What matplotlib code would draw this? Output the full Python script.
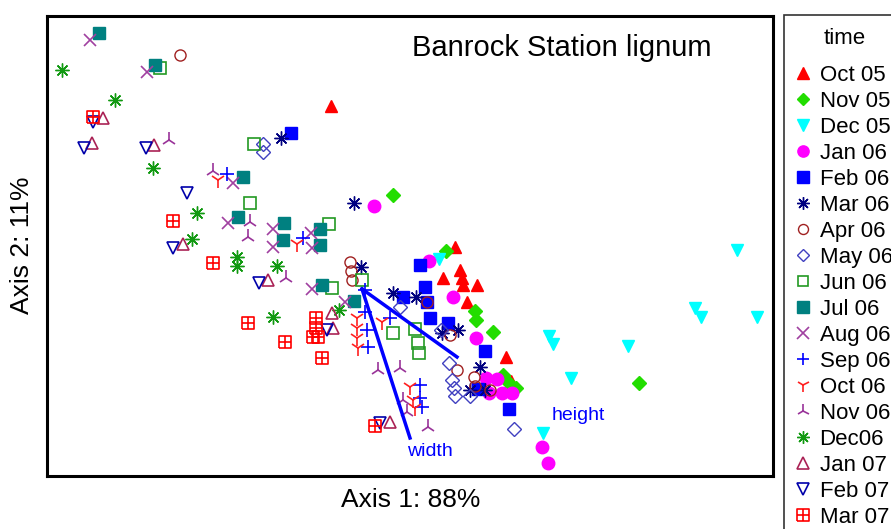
import matplotlib
matplotlib.use("Agg")
import matplotlib.pyplot as plt
from matplotlib.path import Path

plt.rcParams['font.family'] = ['Liberation Sans', 'DejaVu Sans']

# ordination scores (screen units, y grows downward)
oct05 = [(331,106),(455,247),(443,278),(460,270),(462,278),(463,285),(477,285),(467,302),(506,357),(511,381)]
nov05 = [(393,195),(446,251),(475,311),(476,320),(493,332),(503,375),(509,383),(516,388),(639,383)]
dec05 = [(439,259),(549,336),(553,344),(571,378),(628,346),(695,308),(701,317),(737,250),(757,317),(543,433)]
jan06 = [(374,206),(429,261),(453,297),(476,338),(486,378),(497,379),(489,393),(502,393),(512,393),(542,447),(548,463)]
feb06 = [(291,133),(420,265),(425,287),(403,297),(427,302),(430,318),(448,323),(485,351),(478,389),(509,409)]
mar06 = [(281,138),(354,203),(361,267),(393,293),(416,297),(442,333),(458,330),(480,367),(470,390),(485,390)]
apr06 = [(180,55),(350,262),(351,271),(352,280),(427,302),(450,335),(457,370),(474,377),(475,386),(490,390)]
may06 = [(263,144),(263,152),(400,307),(441,330),(449,363),(452,380),(454,388),(455,396),(470,396),(514,429)]
jun06 = [(160,68),(254,144),(250,203),(329,224),(332,288),(362,280),(393,333),(415,329),(418,343),(419,353)]
jul06 = [(99,33),(155,65),(243,177),(238,217),(284,223),(283,240),(320,229),(320,245),(322,285),(354,301)]
aug06 = [(90,40),(147,72),(233,183),(228,223),(273,229),(273,247),(311,233),(312,248),(312,289),(345,302)]
sep06 = [(227,174),(303,238),(365,290),(365,312),(367,330),(368,347),(390,318),(420,385),(420,398),(422,407)]
oct06 = [(218,180),(297,244),(357,318),(357,328),(357,338),(358,348),(382,322),(410,387),(413,400),(415,408)]
nov06 = [(169,140),(213,171),(250,222),(248,237),(286,278),(378,370),(400,368),(403,400),(407,412),(428,427)]
dec06b = [(62,70),(115,100),(153,168),(197,213),(192,239),(237,257),(237,266),(277,266),(273,317),(339,310)]
jan07 = [(103,118),(92,143),(154,145),(183,244),(268,280),(332,313),(333,328),(390,422)]
feb07 = [(93,122),(84,148),(146,148),(187,193),(173,248),(259,283),(327,330),(380,423)]
mar07 = [(93,117),(173,221),(213,263),(248,323),(285,342),(316,318),(316,328),(313,337),(318,337),(322,358),(375,426)]

labels = ["Oct 05","Nov 05","Dec 05","Jan 06","Feb 06","Mar 06","Apr 06","May 06","Jun 06",
          "Jul 06","Aug 06","Sep 06","Oct 06","Nov 06","Dec06","Jan 07","Feb 07","Mar 07"]
series = [oct05,nov05,dec05,jan06,feb06,mar06,apr06,may06,jun06,jul06,aug06,sep06,oct06,nov06,dec06b,jan07,feb07,mar07]

# joint plot vectors: origin and tips
vec_origin = (362,289)
vec_tips = {"width": (410,438), "height": (457,357)}
vec_label_pos = {"width": (430,451), "height": (578,415)}

boxplus = Path([(-1,-1),(1,-1),(1,1),(-1,1),(-1,-1),(0,-1),(0,1),(-1,0),(1,0)],
               [Path.MOVETO,Path.LINETO,Path.LINETO,Path.LINETO,Path.LINETO,
                Path.MOVETO,Path.LINETO,Path.MOVETO,Path.LINETO])

styles = [
    dict(marker='^', color='#ff0000', ms=9),
    dict(marker='D', color='#22dd00', ms=7),
    dict(marker='v', color='#00ffff', ms=9),
    dict(marker='o', color='#ff00ff', ms=9),
    dict(marker='s', color='#0000ff', ms=9),
    dict(marker=(8,2,0), color='#000080', ms=10, mew=1),
    dict(marker='o', color='#a02020', ms=8, mfc='none', mew=1),
    dict(marker='D', color='#4040c0', ms=7, mfc='none', mew=1),
    dict(marker='s', color='#229922', ms=8, mfc='none', mew=1.2),
    dict(marker='s', color='#008080', ms=9),
    dict(marker='x', color='#a040a0', ms=9, mew=1.2),
    dict(marker='+', color='#0000ff', ms=10, mew=1.2),
    dict(marker='1', color='#ff2020', ms=11, mew=1.2),
    dict(marker='2', color='#993399', ms=11, mew=1.2),
    dict(marker=(8,2,0), color='#119911', ms=10, mew=1),
    dict(marker='^', color='#aa2255', ms=9, mfc='none', mew=1.2),
    dict(marker='v', color='#0000aa', ms=9, mfc='none', mew=1.2),
    dict(marker=boxplus, color='#ff0000', ms=9, mfc='none', mew=1.2),
]

fig = plt.figure(figsize=(8.91, 5.29), dpi=100)
ax = fig.add_axes([47/891, 1-476/529, (773-47)/891, (476-16)/529])

for pts, lab, st in zip(series, labels, styles):
    xs = [p[0] for p in pts]
    ys = [p[1] for p in pts]
    ax.plot(xs, ys, linestyle='none', label=lab, **st)

for name, tip in vec_tips.items():
    ax.plot([vec_origin[0], tip[0]], [vec_origin[1], tip[1]], color='#0000ff', lw=2.5)
    lx, ly = vec_label_pos[name]
    ax.text(lx, ly, name, color='#0000ff', fontsize=14, ha='center', va='center')

ax.set_xlim(47, 773)
ax.set_ylim(476, 16)
ax.set_xticks([])
ax.set_yticks([])
for s in ax.spines.values():
    s.set_linewidth(2.2)

ax.text(562, 48, "Banrock Station lignum", fontsize=21, ha='center', va='center')
fig.text(411/891, 1-500/529, "Axis 1: 88%", fontsize=19, ha='center', va='center')
fig.text(22/891, 1-245/529, "Axis 2: 11%", fontsize=19, ha='center', va='center', rotation=90)

leg = fig.legend(loc='upper left', bbox_to_anchor=(784/891, 1-15/529), title="time",
                 fontsize=16, title_fontsize=16, frameon=True, fancybox=False,
                 edgecolor='black', labelspacing=0.225, handletextpad=0.5,
                 handlelength=0.5, borderpad=0.6, borderaxespad=0, markerscale=0.9)
leg.get_frame().set_linewidth(1.2)
leg._legend_box.sep = 11

fig.savefig("out.png", dpi=100)
